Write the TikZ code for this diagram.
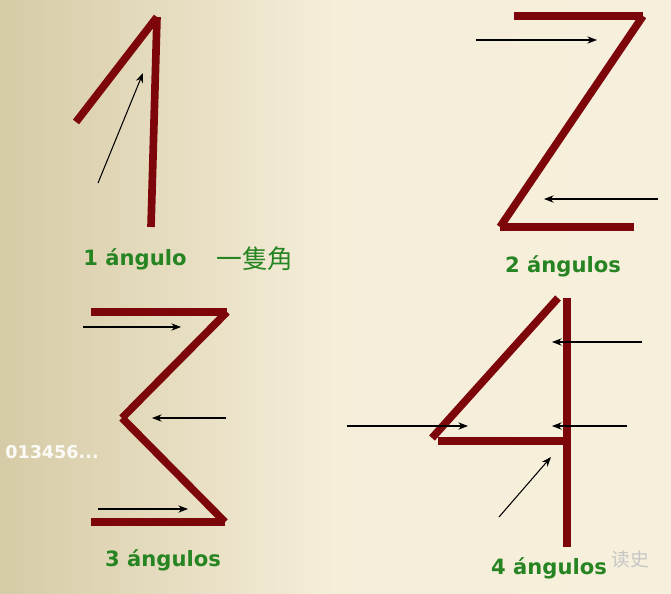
\documentclass[tikz,border=0pt]{standalone}
\usepackage{fontspec}
\setmainfont{DejaVu Sans}
\newfontfamily\cjkfont{Noto Sans CJK TC}
\newfontfamily\wmfont{Noto Sans CJK SC}
\usetikzlibrary{arrows.meta}
\definecolor{strokered}{RGB}{125,6,10}
\definecolor{labelgreen}{RGB}{38,132,34}
\definecolor{bgleft}{RGB}{214,203,166}
\definecolor{bgright}{RGB}{246,239,219}

\begin{document}
\begin{tikzpicture}[x=0.3mm, y=-0.3mm]
    \tikzstyle{bar} = [line width=2.3mm, draw=strokered, line cap=butt]
    \tikzstyle{hint} = [line width=0.9pt, draw=black, -{Stealth[length=2.9mm, width=2.2mm]}]
    \tikzstyle{caption} = [text=labelgreen, font=\bfseries\fontsize{18}{18}\selectfont]

    % Background
    \shade [left color=bgleft, right color=bgright, middle color=bgright!97!bgleft] (0,0) rectangle (671,593);
    \useasboundingbox (0,0) rectangle (671,593);

    % One
    \coordinate (onetop) at (157,17);
    \coordinate (oneleft) at (76,122);
    \coordinate (onefoot) at (151,227);
    \draw [bar] (oneleft) -- (onetop);
    \draw [bar] (onetop) -- (onefoot);
    \coordinate (onearrowa) at (98,183);
    \coordinate (onearrowb) at (143,73);
    \draw [hint] (onearrowa) -- (onearrowb);

    % Two
    \coordinate (twotl) at (514,16);
    \coordinate (twotr) at (643,16);
    \coordinate (twobl) at (500,227);
    \coordinate (twobr) at (634,227);
    \draw [bar] (twotl) -- (twotr);
    \draw [bar] (twotr) -- (twobl);
    \draw [bar] (twobl) -- (twobr);
    \coordinate (twoarrowa) at (476,40);
    \coordinate (twoarrowb) at (597,40);
    \coordinate (twoarrowc) at (658,199);
    \coordinate (twoarrowd) at (544,199);
    \draw [hint] (twoarrowa) -- (twoarrowb);
    \draw [hint] (twoarrowc) -- (twoarrowd);

    % Three
    \coordinate (threetl) at (91,312);
    \coordinate (threetr) at (227,312);
    \coordinate (threemid) at (122,418);
    \coordinate (threebr) at (225,522);
    \coordinate (threebl) at (91,522);
    \draw [bar] (threetl) -- (threetr);
    \draw [bar] (threetr) -- (threemid);
    \draw [bar] (threemid) -- (threebr);
    \draw [bar] (threebr) -- (threebl);
    \coordinate (threearrowa) at (83,327);
    \coordinate (threearrowb) at (181,327);
    \coordinate (threearrowc) at (226,418);
    \coordinate (threearrowd) at (152,418);
    \coordinate (threearrowe) at (98,509);
    \coordinate (threearrowf) at (188,509);
    \draw [hint] (threearrowa) -- (threearrowb);
    \draw [hint] (threearrowc) -- (threearrowd);
    \draw [hint] (threearrowe) -- (threearrowf);

    % Four
    \coordinate (fourtop) at (567,298);
    \coordinate (fourfoot) at (567,547);
    \coordinate (fourslant) at (558,298);
    \coordinate (fourleft) at (432,438);
    \coordinate (fourbarl) at (438,441);
    \coordinate (fourbarr) at (567,441);
    \draw [bar] (fourtop) -- (fourfoot);
    \draw [bar] (fourslant) -- (fourleft);
    \draw [bar] (fourbarl) -- (fourbarr);
    \coordinate (fourarrowa) at (642,342);
    \coordinate (fourarrowb) at (552,342);
    \coordinate (fourarrowc) at (347,426);
    \coordinate (fourarrowd) at (468,426);
    \coordinate (fourarrowe) at (627,426);
    \coordinate (fourarrowf) at (552,426);
    \coordinate (fourarrowg) at (499,517);
    \coordinate (fourarrowh) at (551,457);
    \draw [hint] (fourarrowa) -- (fourarrowb);
    \draw [hint] (fourarrowc) -- (fourarrowd);
    \draw [hint] (fourarrowe) -- (fourarrowf);
    \draw [hint] (fourarrowg) -- (fourarrowh);

    % Captions
    \node [caption] (capone) at (135,259) {1 ángulo};
    \node [text=labelgreen, font=\cjkfont\fontsize{22}{22}\selectfont] (capcjk) at (255,259) {一隻角};
    \node [caption] (captwo) at (563,266) {2 ángulos};
    \node [caption] (capthree) at (163,560) {3 ángulos};
    \node [caption] (capfour) at (549,568) {4 ángulos};

    % Digits and watermark
    \node [text=white, opacity=0.9, font=\bfseries\fontsize{15}{15}\selectfont] (digits) at (52,452) {013456...};
    \node [text=gray!45, font=\wmfont\fontsize{16}{16}\selectfont] (mark) at (630,559) {读史};
\end{tikzpicture}
\end{document}
